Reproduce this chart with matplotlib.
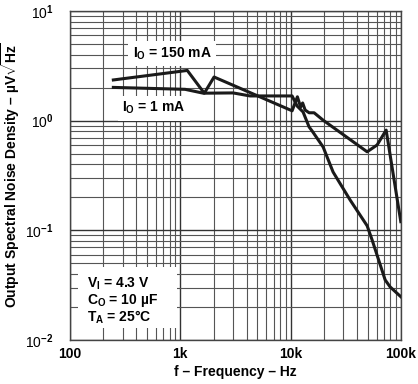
import matplotlib
matplotlib.use("Agg")
import matplotlib.pyplot as plt
from matplotlib.patches import Rectangle
from matplotlib.ticker import FixedLocator, LogLocator, NullFormatter

plt.rcParams["font.family"] = ["Liberation Sans", "DejaVu Sans"]
plt.rcParams["mathtext.fontset"] = "custom"
plt.rcParams["mathtext.rm"] = "Liberation Sans:bold"
plt.rcParams["mathtext.bf"] = "Liberation Sans:bold"
plt.rcParams["mathtext.it"] = "Liberation Sans:bold:italic"

# I_O = 150 mA
f_150 = [247, 1156, 1648, 2021, 10300, 11500, 12300, 12830, 13520, 14680,
         16300, 19680, 49300, 60700, 73300, 99500]
n_150 = [2.35, 2.87, 1.78, 2.50, 1.23, 1.65, 1.33, 1.45, 1.25, 1.18,
         1.18, 1.01, 0.52, 0.60, 0.82, 0.12]

# I_O = 1 mA
f_1 = [247, 1104, 1615, 3006, 4285, 10300, 11430, 12950, 14680, 15630,
       19680, 24230, 34570, 49300, 54700, 71800, 79600, 100000]
n_1 = [2.01, 1.93, 1.78, 1.79, 1.68, 1.68, 1.36, 1.20, 0.877, 0.806,
       0.575, 0.340, 0.189, 0.110, 0.0817, 0.0353, 0.0305, 0.0247]

x_ticks = [100, 1000, 10000, 100000]
x_labels = ["100", "1k", "10k", "100k"]
y_ticks = [0.01, 0.1, 1, 10]
y_labels = ["10$^{-2}$", "10$^{-1}$", "10$^{0}$", "10$^{1}$"]

fig = plt.figure(figsize=(4.18, 3.84), dpi=100)
ax = fig.add_axes([0.1675, 0.1146, 0.7919, 0.8568])

ax.plot(f_150, n_150, color="#1a1a1a", lw=2.2, zorder=3)
ax.plot(f_1, n_1, color="#1a1a1a", lw=2.2, zorder=3)

ax.set_xscale("log")
ax.set_yscale("log")
ax.set_xlim(100, 100000)
ax.set_ylim(0.01, 10)

ax.xaxis.set_major_locator(FixedLocator(x_ticks))
ax.yaxis.set_major_locator(FixedLocator(y_ticks))
ax.set_xticklabels(x_labels, fontsize=10, fontweight="bold")
ax.set_yticklabels(y_labels, fontsize=10)
for ax_ in (ax.xaxis, ax.yaxis):
    ax_.set_minor_locator(LogLocator(base=10, subs=range(2, 10)))
    ax_.set_minor_formatter(NullFormatter())
ax.tick_params(which="both", length=0)
ax.tick_params(axis="x", pad=5)
ax.tick_params(axis="y", pad=12)

ax.grid(which="major", color="#333333", lw=1.0)
ax.grid(which="minor", color="#555555", lw=0.8)
for s in ax.spines.values():
    s.set_color("#444444")
    s.set_linewidth(1.0)

ax.set_xlabel("f – Frequency – Hz", fontsize=10, fontweight="bold", labelpad=3)
ax.set_ylabel(r"Output Spectral Noise Density – µV$\sqrt{\mathrm{Hz}}$",
              fontsize=10, fontweight="bold", labelpad=2)

box = dict(facecolor="white", edgecolor="none", pad=3)
ax.text(840, 4.1, "I$_\\mathregular{O}$ = 150 mA", fontsize=10,
        fontweight="bold", ha="center", va="center", bbox=box, zorder=4)
ax.text(578, 1.3, "I$_\\mathregular{O}$ = 1 mA", fontsize=10,
        fontweight="bold", ha="center", va="center", bbox=box, zorder=4)

ax.add_patch(Rectangle((0.024, 0.037), 0.299, 0.186, transform=ax.transAxes,
                       facecolor="white", edgecolor="none", zorder=4))
ax.text(0.052, 0.197, "V$_\\mathregular{I}$ = 4.3 V\nC$_\\mathregular{O}$ = 10 µF\n"
        "T$_\\mathregular{A}$ = 25°C", transform=ax.transAxes, fontsize=10,
        fontweight="bold", ha="left", va="top", linespacing=1.0, zorder=5)

fig.savefig("out.png", dpi=100)
